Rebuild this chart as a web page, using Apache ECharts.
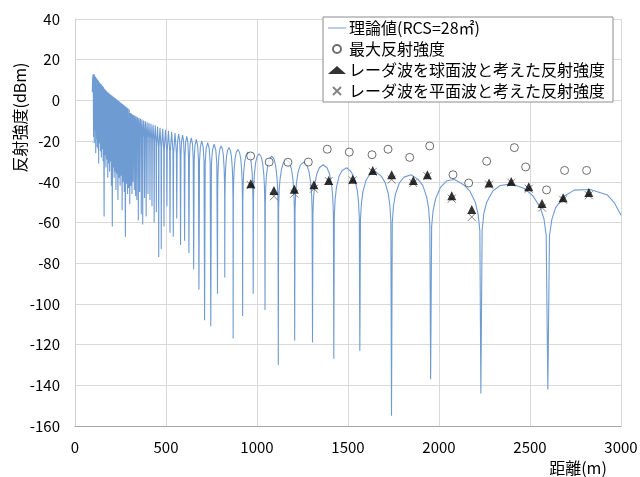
<!DOCTYPE html>
<html>
<head>
<meta charset="utf-8">
<script src="https://cdn.jsdelivr.net/npm/echarts@6/dist/echarts.min.js"></script>
<style>
  html, body {margin: 0; padding: 0; background: #fff;}
  #chart {width: 640px; height: 477px;}
</style>
</head>
<body>
<div id="chart"></div>
<script>
// 理論値 (RCS=28㎡) : [距離(m), 反射強度(dBm)]
const theoryCurve = [
  [95, 4], [97, 11], [100, 12.8], [102, -18], [104, 13], [106, -21], [108, 12.2], [110, -15],
  [112, 11.6], [114, -26], [116, 11.1], [118, -19], [120, 10.6], [122, -23], [124, 10.2], [127, -24],
  [129, 9.6], [130, -31], [132, 9.2], [135, -21], [137, 8.6], [140, -25], [142, 8.1], [145, -28],
  [147, 7.6], [150, -24], [152, 7.1], [155, -30], [157, 6.4], [160, -57], [162, 5.7], [165, -27],
  [167, 5.2], [170, -33], [172, 4.8], [175, -29], [177, 4.3], [180, -38], [182, 3.9], [185, -31],
  [187, 3.5], [190, -35], [192, 3.1], [195, -30], [197, 2.7], [200, -42], [202, 2.4], [205, -62],
  [207, 2], [210, -33], [212, 1.7], [215, -38], [217, 1.3], [220, -35], [222, 1], [225, -44],
  [227, 0.6], [230, -36], [232, 0.3], [236, -49], [238, -0.2], [242, -38], [244, -0.6], [248, -42],
  [250, -1], [254, -37], [256, -1.4], [259, -54], [261, -1.8], [265, -40], [267, -2.2], [271, -45],
  [273, -2.6], [277, -67], [279, -3], [283, -41], [285, -3.5], [289, -46], [291, -3.9], [295, -43],
  [298, -4.5], [301, -51],
  [302, -14], [304, -6.2], [306, -14], [307, -42],
  [308, -14.5], [310, -6.5], [312, -14.5], [313, -46],
  [314, -15], [316, -6.9], [318, -15], [319, -40],
  [320, -15], [322.5, -7.2], [325, -15], [326, -44],
  [327, -15.5], [329.5, -7.6], [332, -15.5], [333, -47],
  [334, -16], [336.5, -7.9], [339, -16], [340, -49],
  [341.2, -16.3], [344, -8.3], [346.8, -16.3], [348, -59],
  [349, -16.6], [351.5, -8.6], [354, -16.6], [355, -45],
  [356.4, -17], [359.5, -9], [362.6, -17], [364, -56],
  [365.2, -17.4], [368, -9.4], [370.8, -17.4], [372, -61],
  [373.5, -18], [377, -9.9], [380.5, -18], [382, -48],
  [383.4, -18.3], [386.5, -10.3], [389.6, -18.3], [391, -57],
  [392.5, -18.7], [396, -10.7], [399.5, -18.7], [401, -46],
  [402.6, -19], [406.5, -11.1], [410.4, -19], [412, -49],
  [413.6, -19.5], [417.5, -11.5], [421.4, -19.5], [423, -52],
  [424.8, -20], [429, -12], [433.2, -20], [435, -60],
  [436.8, -20.4], [441, -12.4], [445.2, -20.4], [447, -55],
  [448.3, -23], [453.5, -12.9], [458.7, -23], [460, -77],
  [461.4, -23.5], [467, -13.4], [472.6, -23.5], [474, -73],
  [475.5, -24], [481.5, -13.9], [487.5, -24], [489, -62],
  [490.6, -24.5], [497, -14.4], [503.4, -24.5], [505, -52],
  [506.7, -25], [513.5, -14.9], [520.3, -25], [522, -65],
  [523.8, -25.5], [531, -15.4], [538.2, -25.5], [540, -67],
  [541.9, -26], [549.5, -16], [557.1, -26], [559, -58],
  [561.1, -26.5], [564.3, -19.5], [569.5, -16.5], [574.7, -19.5], [577.9, -26.5], [580, -71],
  [582.2, -27], [585.5, -20], [591, -17.1], [596.5, -20], [599.8, -27], [602, -69],
  [604.4, -27.7], [608, -20.7], [614, -17.7], [620, -20.7], [623.6, -27.7], [626, -75],
  [628.6, -28.4], [632.5, -21.4], [639, -18.4], [645.5, -21.4], [649.4, -28.4], [652, -83],
  [654.9, -29.1], [659.3, -22.1], [666.5, -19.1], [673.8, -22.1], [678.1, -29.1], [681, -93],
  [684.1, -29.9], [688.8, -22.9], [696.5, -19.9], [704.3, -22.9], [708.9, -29.9], [712, -108],
  [715.4, -30.7], [720.5, -23.7], [729, -20.7], [737.5, -23.7], [742.6, -30.7], [746, -111],
  [749.7, -31.5], [755.3, -24.5], [764.5, -21.5], [773.8, -24.5], [779.3, -31.5], [783, -95],
  [783.8, -46.4], [785, -38.4], [787, -32.6], [791, -27], [795.8, -23.9], [803, -22.4],
  [810.2, -23.9], [815, -27], [819, -32.6], [821, -38.4], [822.2, -46.4], [823, -87],
  [823.9, -47.2], [825.3, -39.2], [827.6, -33.4], [832.2, -27.8], [837.7, -24.7], [846, -23.2],
  [854.3, -24.7], [859.8, -27.8], [864.4, -33.4], [866.7, -39.2], [868.1, -47.2], [869, -117],
  [870, -48.1], [871.6, -40.1], [874.2, -34.3], [879.4, -28.7], [885.6, -25.6], [895, -24.1],
  [904.4, -25.6], [910.6, -28.7], [915.8, -34.3], [918.4, -40.1], [920, -48.1], [921, -106],
  [922.2, -49.4], [923.9, -41.4], [926.8, -35.6], [932.6, -30], [939.6, -26.9], [950, -25.4],
  [960.4, -26.9], [967.4, -30], [973.2, -35.6], [976.1, -41.4], [977.8, -49.4], [979, -95],
  [980.3, -50.2], [982.3, -42.2], [985.5, -36.4], [992, -30.8], [999.8, -27.7], [1011.5, -26.2],
  [1023.2, -27.7], [1031, -30.8], [1037.5, -36.4], [1040.8, -42.2], [1042.7, -50.2], [1044, -103],
  [1045.5, -51.4], [1047.7, -43.4], [1051.3, -37.6], [1058.6, -32], [1067.4, -28.9], [1080.5, -27.4],
  [1093.6, -28.9], [1102.4, -32], [1109.7, -37.6], [1113.4, -43.4], [1115.5, -51.4], [1117, -130],
  [1118.8, -53], [1121.5, -45], [1126, -39.2], [1135, -33.6], [1145.8, -30.5], [1162, -29],
  [1178.2, -30.5], [1189, -33.6], [1198, -39.2], [1202.5, -45], [1205.2, -53], [1207, -118],
  [1209, -54.3], [1211.9, -46.3], [1216.8, -40.5], [1226.6, -34.9], [1238.4, -31.8], [1256, -30.3],
  [1273.6, -31.8], [1285.4, -34.9], [1295.2, -40.5], [1300.1, -46.3], [1303, -54.3], [1305, -119],
  [1307.3, -55.6], [1310.9, -47.6], [1316.7, -41.8], [1328.4, -36.2], [1342.4, -33.1], [1363.5, -31.6],
  [1384.6, -33.1], [1398.6, -36.2], [1410.3, -41.8], [1416.2, -47.6], [1419.7, -55.6], [1422, -127],
  [1424.9, -56.7], [1429.2, -48.7], [1436.3, -42.9], [1450.6, -37.3], [1467.8, -34.4], [1493.5, -33.1],
  [1519.2, -35.4], [1536.4, -38.5], [1550.7, -44.1], [1557.9, -49.9], [1562.1, -57.9], [1565, -123],
  [1568.5, -58.5], [1573.7, -50.5], [1582.4, -44.7], [1599.8, -39.1], [1620.7, -36.2], [1652, -35],
  [1683.3, -37.3], [1704.2, -40.4], [1721.6, -46], [1730.3, -51.8], [1735.5, -59.8], [1739, -155],
  [1743.3, -60], [1749.8, -52], [1760.5, -46.2], [1782, -40.6], [1807.8, -37.7], [1846.5, -36.5],
  [1885.2, -38.8], [1911, -41.9], [1932.5, -47.5], [1943.3, -53.3], [1949.7, -61.3], [1954, -137],
  [1959.5, -62], [1967.8, -54], [1981.6, -48.2], [2009.2, -42.6], [2042.3, -39.5], [2085, -38.9],
  [2135, -41.4], [2170, -44.6], [2200, -50.2], [2215, -56], [2224.5, -64], [2230, -144],
  [2237, -63.8], [2246, -55.8], [2262, -50], [2295, -44.6], [2336, -41.8], [2400, -41],
  [2468, -43.3], [2515, -46.8], [2556, -52.5], [2577, -58.3], [2589, -66.3], [2598, -142],
  [2607, -66.5], [2620, -58.5], [2641, -52.7], [2687, -47.1], [2743, -44.1], [2831, -43.8],
  [2926, -46.5], [2965, -50.5], [3000, -56.4]
];

// 最大反射強度
const maxReflection = [
  [965, -27.3], [1067, -30.3], [1170, -30.4], [1282, -30.3], [1386, -24.0], [1507, -25.4],
  [1632, -26.7], [1720, -24.0], [1839, -28.0], [1949, -22.4], [2077, -36.5], [2163, -40.6],
  [2262, -29.9], [2414, -23.2], [2476, -32.7], [2591, -44.0], [2690, -34.4], [2811, -34.4]
];

// レーダ波を球面波と考えた反射強度
const sphericalWave = [
  [966, -40.9], [1093, -44.3], [1205, -43.7], [1313, -41.4], [1394, -39.4], [1526, -38.8],
  [1636, -34.5], [1740, -36.5], [1859, -39.4], [1936, -36.5], [2070, -46.8], [2180, -53.6],
  [2275, -40.6], [2397, -39.8], [2493, -42.4], [2566, -50.7], [2682, -47.8], [2823, -45.2]
];

// レーダ波を平面波と考えた反射強度
const planeWave = [
  [966, -41.6], [1093, -47.1], [1205, -45.8], [1313, -43.4], [1394, -39.6], [1526, -39.3],
  [1636, -35.1], [1740, -38.9], [1859, -40.6], [1936, -37.2], [2070, -48.3], [2180, -57.3],
  [2275, -41.4], [2397, -40.4], [2493, -43.4], [2566, -52.7], [2682, -48.8], [2823, -46.6]
];

const seriesNames = [
  '理論値(RCS=28㎡)',
  '最大反射強度',
  'レーダ波を球面波と考えた反射強度',
  'レーダ波を平面波と考えた反射強度'
];

const xRange = {min: 0, max: 3000, interval: 500};
const yRange = {min: -160, max: 40, interval: 20};

const font = '"Noto Sans CJK JP", "Noto Sans", sans-serif';
const crossPath = 'path://M0,0 L10,10 M10,0 L0,10';

const chart = echarts.init(document.getElementById('chart'));
chart.setOption({
  animation: false,
  backgroundColor: '#fff',
  textStyle: {fontFamily: font},
  grid: {left: 75, right: 19, top: 19, bottom: 51, containLabel: false, outerBoundsMode: 'none'},
  legend: {
    orient: 'vertical',
    left: 323,
    top: 17,
    width: 289,
    padding: [3, 8, 3, 5],
    itemGap: 5,
    itemWidth: 18,
    itemHeight: 8,
    backgroundColor: '#fff',
    borderColor: '#8c8c8c',
    borderWidth: 1,
    borderRadius: 0,
    textStyle: {fontFamily: font, fontSize: 16, color: '#000', padding: [0, 0, 0, -2]},
    data: seriesNames.map((n, i) => i === 0 ? {name: n, icon: 'path://M0,5 L18,5 L18,6 L0,6 Z'} : n)
  },
  xAxis: {
    type: 'value',
    min: xRange.min,
    max: xRange.max,
    interval: xRange.interval,
    name: '距離(m)',
    nameLocation: 'middle',
    nameMoveOverlap: false,
    nameGap: 42,
    nameTextStyle: {fontFamily: font, fontSize: 16, color: '#000', verticalAlign: 'middle', padding: [0, 0, 0, 460]},
    axisLine: {onZero: false, lineStyle: {color: '#a6a6a6'}},
    axisTick: {show: false},
    axisLabel: {fontFamily: font, fontSize: 15, color: '#000', margin: 14, formatter: v => String(v)},
    splitLine: {lineStyle: {color: '#d9d9d9'}}
  },
  yAxis: {
    type: 'value',
    min: yRange.min,
    max: yRange.max,
    interval: yRange.interval,
    name: '反射強度(dBm)',
    nameLocation: 'middle',
    nameMoveOverlap: false,
    nameGap: 55,
    nameRotate: 90,
    nameTextStyle: {fontFamily: font, fontSize: 16, color: '#000', verticalAlign: 'middle', padding: [0, 0, 0, 210]},
    axisLine: {show: true, onZero: false, lineStyle: {color: '#d0d0d0'}},
    axisTick: {show: false},
    axisLabel: {fontFamily: font, fontSize: 15, color: '#000', margin: 15, formatter: v => String(v)},
    splitLine: {lineStyle: {color: '#d9d9d9'}}
  },
  series: [
    {
      name: seriesNames[0],
      type: 'line',
      data: theoryCurve,
      showSymbol: false,
      symbol: 'none',
      lineStyle: {color: '#6f9bd3', width: 1.1},
      itemStyle: {color: '#6f9bd3'},
      z: 2
    },
    {
      name: seriesNames[1],
      type: 'scatter',
      data: maxReflection,
      symbol: 'circle',
      symbolSize: 8,
      itemStyle: {color: '#fff', borderColor: '#4a4a4a', borderWidth: 1},
      z: 3
    },
    {
      name: seriesNames[2],
      type: 'scatter',
      data: sphericalWave,
      symbol: 'triangle',
      symbolSize: [9, 9],
      itemStyle: {color: '#000'},
      z: 5
    },
    {
      name: seriesNames[3],
      type: 'scatter',
      data: planeWave,
      symbol: crossPath,
      symbolSize: 8,
      itemStyle: {color: 'rgba(0,0,0,0)', borderColor: '#666', borderWidth: 1},
      z: 4
    }
  ]
});
</script>
</body>
</html>
